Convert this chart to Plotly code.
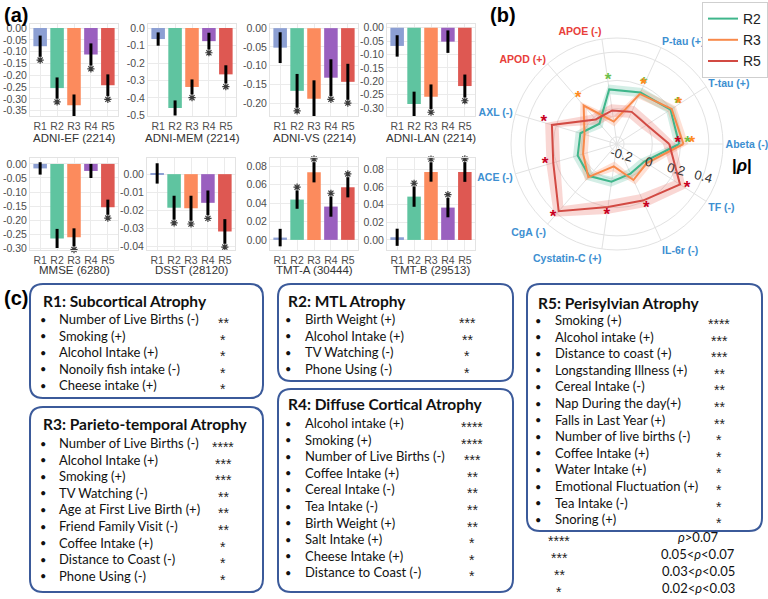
import plotly.graph_objects as go

W, H = 768, 599

# ---------------- panel (a) data ----------------
regions = ["R1", "R2", "R3", "R4", "R5"]
test_names = ["ADNI-EF (2214)", "ADNI-MEM (2214)", "ADNI-VS (2214)", "ADNI-LAN (2214)",
              "MMSE (6280)", "DSST (28120)", "TMT-A (30444)", "TMT-B (29513)"]

ef_beta = [-0.077, -0.254, -0.327, -0.112, -0.242]
ef_ci = [0.045, 0.045, 0.046, 0.047, 0.046]
ef_sig = [1, 1, 1, 1, 1]

mem_beta = [-0.063, -0.457, -0.337, -0.075, -0.265]
mem_ci = [0.038, 0.043, 0.043, 0.048, 0.052]
mem_sig = [0, 1, 1, 1, 1]

vs_beta = [-0.052, -0.167, -0.188, -0.132, -0.143]
vs_ci = [0.041, 0.045, 0.049, 0.049, 0.048]
vs_sig = [0, 1, 1, 1, 1]

lan_beta = [-0.068, -0.285, -0.258, -0.052, -0.218]
lan_ci = [0.040, 0.046, 0.046, 0.042, 0.043]
lan_sig = [0, 1, 1, 0, 1]

mmse_beta = [-0.016, -0.265, -0.261, -0.025, -0.154]
mmse_ci = [0.022, 0.034, 0.032, 0.025, 0.027]
mmse_sig = [0, 1, 1, 0, 1]

dsst_beta = [0.0004, -0.0185, -0.0188, -0.0158, -0.0316]
dsst_ci = [0.0056, 0.0066, 0.0069, 0.0068, 0.0068]
dsst_sig = [0, 1, 1, 1, 1]

tmta_beta = [0.0025, 0.0438, 0.0735, 0.0362, 0.0572]
tmta_ci = [0.0095, 0.0100, 0.0110, 0.0110, 0.0110]
tmta_sig = [0, 1, 1, 1, 1]

tmtb_beta = [0.0030, 0.0490, 0.0769, 0.0366, 0.0769]
tmtb_ci = [0.0097, 0.0115, 0.0110, 0.0110, 0.0112]
tmtb_sig = [0, 1, 1, 1, 1]

ef_ticks = [0.00, -0.05, -0.10, -0.15, -0.20, -0.25, -0.30, -0.35]
mem_ticks = [0.0, -0.1, -0.2, -0.3, -0.4, -0.5]
vs_ticks = [0.00, -0.05, -0.10, -0.15, -0.20]
lan_ticks = [0.00, -0.05, -0.10, -0.15, -0.20, -0.25, -0.30]
mmse_ticks = [0.00, -0.05, -0.10, -0.15, -0.20, -0.25, -0.30]
dsst_ticks = [0.00, -0.01, -0.02, -0.03, -0.04]
tmt_ticks = [0.00, 0.02, 0.04, 0.06, 0.08]

# ---------------- panel (b) data ----------------
markers = ["Abeta (-)", "T-tau (+)", "P-tau (+)", "APOE (-)", "APOD (+)", "AXL (-)",
           "ACE (-)", "CgA (-)", "Cystatin-C (+)", "IL-6r (-)", "TF (-)"]
r2_rho = [0.19, 0.20, 0.15, 0.14, -0.06, 0.02, 0.04, 0.05, 0.02, -0.02, -0.02]
r3_rho = [0.22, 0.21, 0.14, -0.09, 0.11, -0.01, 0.00, 0.06, -0.09, 0.03, 0.00]
r5_rho = [0.12, 0.00, 0.00, -0.01, -0.02, 0.23, 0.22, 0.38, 0.20, 0.19, 0.28]
r2_band = [0.035, 0.035, 0.035, 0.035, 0.035, 0.035, 0.035, 0.035, 0.035, 0.035, 0.035]
r3_band = [0.035, 0.035, 0.035, 0.035, 0.035, 0.035, 0.035, 0.035, 0.035, 0.035, 0.035]
r5_band = [0.045, 0.045, 0.045, 0.045, 0.045, 0.050, 0.050, 0.050, 0.050, 0.050, 0.050]
r2_sig = [1, 1, 1, 1, 0, 0, 0, 0, 0, 0, 0]
r3_sig = [1, 1, 1, 0, 1, 0, 0, 0, 0, 0, 0]
r5_sig = [1, 0, 0, 0, 0, 1, 1, 1, 1, 1, 1]
radial_ticks = [-0.2, 0, 0.2, 0.4]
radial_labels = ["-0.2", "0", "0.2", "0.4"]

# ---------------- panel (c) data ----------------
r1_factors = ["Number of Live Births (-)", "Smoking (+)", "Alcohol Intake (+)",
              "Nonoily fish intake (-)", "Cheese intake (+)"]
r1_stars = [2, 1, 1, 1, 1]
r2_factors = ["Birth Weight (+)", "Alcohol Intake (+)", "TV Watching (-)", "Phone Using (-)"]
r2_stars = [3, 2, 1, 1]
r3_factors = ["Number of Live Births (-)", "Alcohol Intake (+)", "Smoking (+)", "TV Watching (-)",
              "Age at First Live Birth (+)", "Friend Family Visit (-)", "Coffee Intake (+)",
              "Distance to Coast (-)", "Phone Using (-)"]
r3_stars = [4, 3, 3, 2, 2, 2, 1, 1, 1]
r4_factors = ["Alcohol intake (+)", "Smoking (+)", "Number of Live Births (-)", "Coffee Intake (+)",
              "Cereal Intake (-)", "Tea Intake (-)", "Birth Weight (+)", "Salt Intake (+)",
              "Cheese Intake (+)", "Distance to Coast (-)"]
r4_stars = [4, 4, 3, 2, 2, 2, 2, 1, 1, 1]
r5_factors = ["Smoking (+)", "Alcohol intake (+)", "Distance to coast (+)", "Longstanding Illness (+)",
              "Cereal Intake (-)", "Nap During the day(+)", "Falls in Last Year (+)",
              "Number of live births (-)", "Coffee Intake (+)", "Water Intake (+)",
              "Emotional Fluctuation (+)", "Tea Intake (-)", "Snoring (+)"]
r5_stars = [4, 3, 3, 2, 2, 2, 2, 1, 1, 1, 1, 1, 1]
sig_keys = ["****", "***", "**", "*"]
sig_desc = ["<i>ρ</i>>0.07", "0.05<<i>ρ</i><0.07", "0.03<<i>ρ</i><0.05", "0.02<<i>ρ</i><0.03"]

# ---------------- styles ----------------
bar_colors = ["#8c9fd3", "#5fc4a0", "#fc8b5d", "#9a60bf", "#de5852"]
SANS = "Liberation Sans, Arial, sans-serif"
TXT = "Lato, Noto Sans, sans-serif"
GRID = "#ebebeb"


def fx(x):
    return x / W


def fy(y):
    return 1 - y / H


fig = go.Figure()

panels = [
    (ef_beta, ef_ci, ef_sig, ef_ticks, "{:.2f}", [-0.372, 0.017], (30, 118), 0),
    (mem_beta, mem_ci, mem_sig, mem_ticks, "{:.1f}", [-0.503, 0.023], (148, 236), 0),
    (vs_beta, vs_ci, vs_sig, vs_ticks, "{:.2f}", [-0.234, 0.011], (270, 358), 0),
    (lan_beta, lan_ci, lan_sig, lan_ticks, "{:.2f}", [-0.330, 0.014], (387, 475), 0),
    (mmse_beta, mmse_ci, mmse_sig, mmse_ticks, "{:.2f}", [-0.306, 0.021], (30, 118), 1),
    (dsst_beta, dsst_ci, dsst_sig, dsst_ticks, "{:.2f}", [-0.0418, 0.0089], (147, 235), 1),
    (tmta_beta, tmta_ci, tmta_sig, tmt_ticks, "{:.2f}", [-0.011, 0.089], (270, 358), 1),
    (tmtb_beta, tmtb_ci, tmtb_sig, tmt_ticks, "{:.2f}", [-0.0114, 0.0927], (387, 475), 1),
]
row_y = [(24, 116), (158, 250)]
title_y = [138.5, 269.5]

annotations = []
layout_axes = {}
for i, (beta, ci, sig, ticks, fmt, rng, (x0, x1), row) in enumerate(panels):
    k = i + 1
    xa = "x" if k == 1 else f"x{k}"
    ya = "y" if k == 1 else f"y{k}"
    fig.add_trace(go.Bar(
        x=regions, y=beta, marker_color=bar_colors, width=0.8,
        error_y=dict(type="data", array=ci, color="black", thickness=3, width=0),
        xaxis=xa, yaxis=ya, showlegend=False, cliponaxis=False, hoverinfo="skip"))
    gap = 0.035 * (rng[1] - rng[0])
    sx, sy = [], []
    for r, b, c, s in zip(regions, beta, ci, sig):
        if s:
            sx.append(r)
            sy.append(b - c - gap if b < 0 else b + c + gap)
    fig.add_trace(go.Scatter(
        x=sx, y=sy, mode="markers",
        marker=dict(symbol="asterisk-open", size=6, color="#3a3a3a",
                    line=dict(width=1.2, color="#3a3a3a")),
        xaxis=xa, yaxis=ya, showlegend=False, cliponaxis=False, hoverinfo="skip"))
    yt, yb = row_y[row]
    layout_axes["xaxis" if k == 1 else f"xaxis{k}"] = dict(
        domain=[fx(x0), fx(x1)], anchor=ya, range=[-0.6, 4.6], type="category",
        showgrid=True, gridcolor=GRID, showline=True, mirror=True, linecolor="#e3e3e3",
        ticks="", tickangle=0, tickfont=dict(size=10.5, color="#4d4d4d", family=SANS),
        fixedrange=True)
    layout_axes["yaxis" if k == 1 else f"yaxis{k}"] = dict(
        domain=[fy(yb), fy(yt)], anchor=xa, range=rng,
        tickvals=ticks, ticktext=[fmt.format(t) for t in ticks],
        showgrid=True, gridcolor=GRID, zeroline=False, showline=True, mirror=True,
        linecolor="#e3e3e3", ticks="", ticklen=0,
        tickfont=dict(size=10.5, color="#4d4d4d", family=SANS), fixedrange=True)
    annotations.append(dict(
        x=fx((x0 + x1) / 2), y=fy(title_y[row]), xref="paper", yref="paper",
        text=test_names[i], showarrow=False, xanchor="center", yanchor="middle",
        font=dict(size=11.5, color="#333", family=SANS)))

# ---------------- panel (b) radar ----------------
series = [
    ("R2", r2_rho, r2_band, r2_sig, "#3fb68b", "rgba(102,194,165,0.28)", "#6cc04a"),
    ("R3", r3_rho, r3_band, r3_sig, "#f8894a", "rgba(252,141,98,0.26)", "#ff8a1e"),
    ("R5", r5_rho, r5_band, r5_sig, "#d24a43", "rgba(232,100,90,0.26)", "#c8001e"),
]
for name, rho, band, sig, lc, fc, sc in series:
    up = [v + b for v, b in zip(rho, band)]
    lo = [v - b for v, b in zip(rho, band)]
    fig.add_trace(go.Scatterpolar(
        r=up + [up[0]] + [lo[0]] + lo[::-1],
        theta=markers + [markers[0]] + [markers[0]] + markers[::-1],
        mode="lines", line=dict(width=0), fill="toself", fillcolor=fc,
        showlegend=False, hoverinfo="skip"))
for name, rho, band, sig, lc, fc, sc in series:
    fig.add_trace(go.Scatterpolar(
        r=rho + [rho[0]], theta=markers + [markers[0]], mode="lines",
        line=dict(color=lc, width=2), name=name))
for name, rho, band, sig, lc, fc, sc in series:
    sr = [v + 0.06 for v, s in zip(rho, sig) if s]
    st = [m for m, s in zip(markers, sig) if s]
    fig.add_trace(go.Scatterpolar(
        r=sr, theta=st, mode="text", text=["<b>*</b>"] * len(sr),
        textfont=dict(size=17, color=sc, family=SANS), showlegend=False, hoverinfo="skip"))

red_labels = {"APOE (-)", "APOD (+)"}
tick_text = [
    f'<b><span style="color:{"#e8403a" if m in red_labels else "#3d8fd1"}">{m}</span></b>'
    for m in markers
]

# ---------------- panel (c) boxes ----------------
shapes = []


def rounded_box(x0, y0, x1, y1, r=13):
    rx, ry = r / W, r / H
    X0, X1, Y0, Y1 = fx(x0), fx(x1), fy(y0), fy(y1)
    path = (f"M {X0+rx},{Y0} L {X1-rx},{Y0} Q {X1},{Y0} {X1},{Y0-ry} "
            f"L {X1},{Y1+ry} Q {X1},{Y1} {X1-rx},{Y1} L {X0+rx},{Y1} "
            f"Q {X0},{Y1} {X0},{Y1+ry} L {X0},{Y0-ry} Q {X0},{Y0} {X0+rx},{Y0} Z")
    shapes.append(dict(type="path", path=path, xref="paper", yref="paper",
                       line=dict(color="#3b5a9a", width=2), fillcolor="rgba(0,0,0,0)"))


def add_box(box, title, ty, factors, stars, ry0, bx, tx, stx, rh=16.6):
    rounded_box(*box)
    annotations.append(dict(x=fx(bx - 2), y=fy(ty), xref="paper", yref="paper", text=f"<b>{title}</b>",
                            showarrow=False, xanchor="left", yanchor="middle",
                            font=dict(size=15.5, color="#111", family=TXT)))
    for j, (f, s) in enumerate(zip(factors, stars)):
        yy = fy(ry0 + j * rh)
        annotations.append(dict(x=fx(bx), y=yy, xref="paper", yref="paper", text="•",
                                showarrow=False, xanchor="center", yanchor="middle",
                                font=dict(size=11, color="#111", family=TXT)))
        annotations.append(dict(x=fx(tx), y=yy, xref="paper", yref="paper", text=f,
                                showarrow=False, xanchor="left", yanchor="middle",
                                font=dict(size=13, color="#111", family=TXT)))
        annotations.append(dict(x=fx(stx), y=yy, xref="paper", yref="paper", text="*" * s,
                                showarrow=False, xanchor="center", yanchor="middle", yshift=-4,
                                font=dict(size=14, color="#222", family=SANS)))


add_box((30, 284, 263, 398), "R1: Subcortical Atrophy", 301, r1_factors, r1_stars, 319, 43, 57, 223)
add_box((30, 407, 263, 592), "R3: Parieto-temporal Atrophy", 424, r3_factors, r3_stars, 443, 43, 57, 223)
add_box((278, 284, 513, 381), "R2: MTL Atrophy", 301, r2_factors, r2_stars, 319, 288, 303, 467)
add_box((278, 389, 513, 592), "R4: Diffuse Cortical Atrophy", 404, r4_factors, r4_stars, 423, 288, 303, 472)
add_box((527, 284, 762, 531), "R5: Perisylvian Atrophy", 303, r5_factors, r5_stars, 320, 538, 553, 719)

for j, (k, d) in enumerate(zip(sig_keys, sig_desc)):
    yy = fy(537 + j * 17.0)
    annotations.append(dict(x=fx(559), y=yy, xref="paper", yref="paper", text=k, showarrow=False,
                            xanchor="center", yanchor="middle", yshift=-4,
                            font=dict(size=14, color="#222", family=SANS)))
    annotations.append(dict(x=fx(698), y=yy, xref="paper", yref="paper", text=d, showarrow=False,
                            xanchor="center", yanchor="middle",
                            font=dict(size=13, color="#111", family=TXT)))

# panel labels
for lab, x, y in [("(a)", 2, 15), ("(b)", 488, 15), ("(c)", 2, 298)]:
    annotations.append(dict(x=fx(x), y=fy(y), xref="paper", yref="paper", text=f"<b>{lab}</b>",
                            showarrow=False, xanchor="left", yanchor="middle",
                            font=dict(size=20, color="#000", family=SANS)))
annotations.append(dict(x=fx(742), y=fy(165), xref="paper", yref="paper", text="<b>|<i>ρ</i>|</b>",
                        showarrow=False, xanchor="center", yanchor="middle",
                        font=dict(size=17, color="#000", family=SANS)))

fig.update_layout(
    width=W, height=H, margin=dict(l=0, r=0, t=0, b=0, autoexpand=False),
    paper_bgcolor="white", plot_bgcolor="white", template="none",
    font=dict(family=SANS),
    annotations=annotations, shapes=shapes,
    polar=dict(
        domain=dict(x=[fx(511), fx(723)], y=[fy(250), fy(38)]),
        bgcolor="white",
        radialaxis=dict(range=[-0.25, 0.5], tickvals=radial_ticks, ticktext=radial_labels,
                        angle=-15, tickangle=0, showline=False, ticks="", gridcolor="#e2e2e2",
                        tickfont=dict(size=13, color="#333", family=SANS)),
        angularaxis=dict(rotation=0, direction="counterclockwise", type="category",
                         categoryorder="array", categoryarray=markers,
                         tickmode="array", tickvals=markers, ticktext=tick_text,
                         gridcolor="#e2e2e2", linecolor="#e2e2e2", showline=True, ticks="",
                         tickfont=dict(size=10.5, family=SANS)),
    ),
    legend=dict(x=1, y=fy(2), xanchor="right", yanchor="top", bgcolor="white",
                bordercolor="#cfcfcf", borderwidth=1, font=dict(size=14, color="#222", family=SANS),
                itemwidth=30, tracegroupgap=0),
    **layout_axes,
)

fig.write_html("out.html", config={"displayModeBar": False},
               post_script="document.body.style.margin='0';document.body.style.padding='0';")
